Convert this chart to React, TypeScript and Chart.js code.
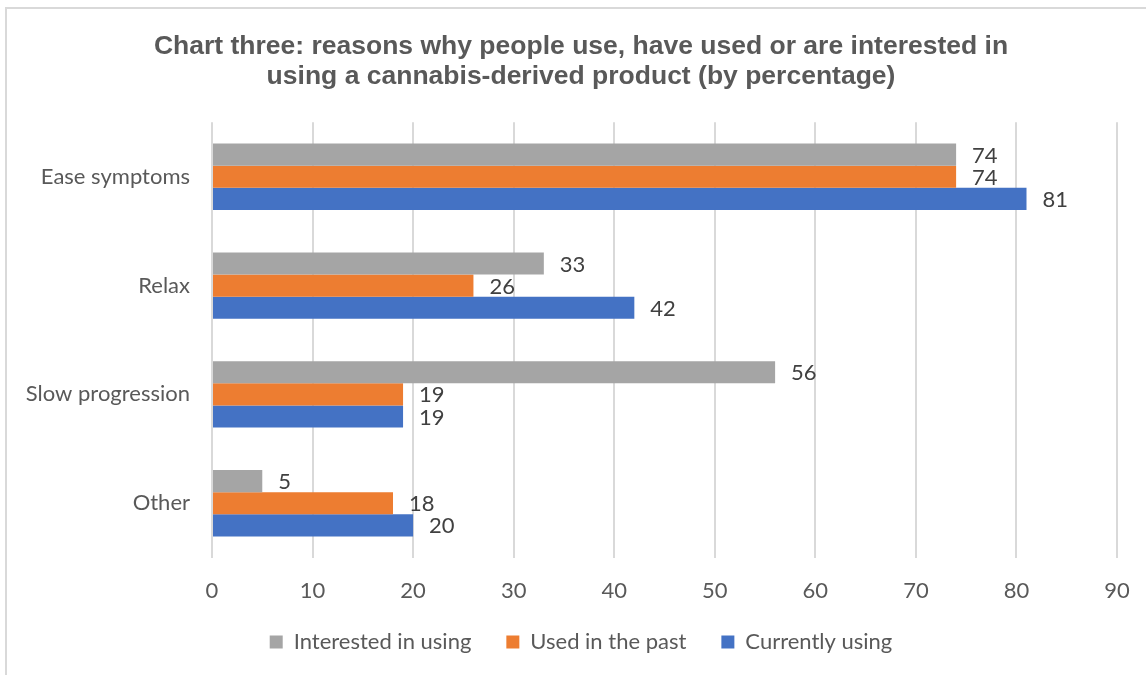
import React, { useEffect, useRef } from "react";
import { Chart, registerables } from "chart.js";

Chart.register(...registerables);

const categories = ["Ease symptoms", "Relax", "Slow progression", "Other"];
const interestedInUsing = [74, 33, 56, 5];
const usedInThePast = [74, 26, 19, 18];
const currentlyUsing = [81, 42, 19, 20];
const seriesNames = ["Interested in using", "Used in the past", "Currently using"];
const titleLines = [
  "Chart three: reasons why people use, have used or are interested in",
  "using a cannabis-derived product (by percentage)",
];

const FONT = "Lato, 'Open Sans', sans-serif";
const FS = 22;
const LEGEND_SHIFT = 28;

const frame = {
  id: "frame",
  beforeDraw(chart: any) {
    const ctx = chart.ctx;
    ctx.save();
    ctx.fillStyle = "#ffffff";
    ctx.fillRect(0, 0, chart.width, chart.height);
    ctx.strokeStyle = "#d9d9d9";
    ctx.lineWidth = 2;
    ctx.beginPath();
    ctx.moveTo(6, chart.height);
    ctx.lineTo(6, 8);
    ctx.lineTo(chart.width, 8);
    ctx.stroke();
    ctx.restore();
  },
};

const legendTighten = {
  id: "legendTighten",
  beforeLayout(chart: any) {
    const lg = chart.legend;
    if (lg && !lg.__patched) {
      const orig = lg.fit.bind(lg);
      lg.fit = function () {
        orig();
        this.height = this.height - LEGEND_SHIFT;
      };
      lg.__patched = true;
    }
  },
  afterLayout(chart: any) {
    const lg = chart.legend;
    if (lg) {
      lg.top -= LEGEND_SHIFT;
      lg.height += LEGEND_SHIFT;
    }
  },
};

const valueLabels = {
  id: "valueLabels",
  afterDatasetsDraw(chart: any) {
    const ctx = chart.ctx;
    ctx.save();
    ctx.font = `${FS}px ${FONT}`;
    ctx.fillStyle = "#404040";
    ctx.textAlign = "left";
    ctx.textBaseline = "middle";
    chart.data.datasets.forEach((ds: any, i: number) => {
      const meta = chart.getDatasetMeta(i);
      meta.data.forEach((bar: any, j: number) => {
        ctx.fillText(String(ds.data[j]), bar.x + 16, bar.y + 1);
      });
    });
    ctx.restore();
  },
};

export default function App() {
  const ref = useRef<HTMLCanvasElement>(null);
  useEffect(() => {
    document.body.style.margin = "0";
    const chart = new Chart(ref.current as HTMLCanvasElement, {
      type: "bar",
      data: {
        labels: categories,
        datasets: [
          { label: seriesNames[0], data: interestedInUsing, backgroundColor: "#a5a5a5" },
          { label: seriesNames[1], data: usedInThePast, backgroundColor: "#ed7d31" },
          { label: seriesNames[2], data: currentlyUsing, backgroundColor: "#4472c4" },
        ],
      },
      options: {
        indexAxis: "y",
        responsive: false,
        animation: false,
        maintainAspectRatio: false,
        layout: { padding: { left: 16, right: 0, top: 8, bottom: 12 } },
        datasets: { bar: { categoryPercentage: 0.61, barPercentage: 1 } },
        scales: {
          x: {
            min: 0,
            max: 90,
            ticks: { stepSize: 10, color: "#595959", font: { size: FS, family: FONT }, padding: 20 },
            grid: { color: "#d9d9d9", lineWidth: 2, drawTicks: false },
            border: { display: false },
            afterFit: (scale: any) => {
              scale.paddingRight = 29;
            },
          },
          y: {
            ticks: { color: "#595959", font: { size: FS, family: FONT }, padding: 22 },
            grid: { display: false, drawTicks: false },
            border: { display: false },
            afterFit: (scale: any) => {
              scale.width = 212 - 16;
            },
          },
        },
        plugins: {
          title: {
            display: true,
            text: titleLines,
            color: "#595959",
            font: { size: 26.5, weight: "bold", family: "'Liberation Sans', Arial, sans-serif", lineHeight: 1.12 },
            padding: { top: 24, bottom: 31 },
          },
          legend: {
            position: "bottom",
            labels: {
              color: "#595959",
              font: { size: FS, family: FONT },
              boxWidth: 13,
              boxHeight: 13,
              padding: 35,
            },
          },
          tooltip: { enabled: false },
        },
      },
      plugins: [frame, legendTighten, valueLabels],
    } as any);
    return () => chart.destroy();
  }, []);
  return (
    <div style={{ position: "absolute", left: 0, top: 0, width: 1146, height: 675 }}>
      <canvas ref={ref} width={1146} height={675} />
    </div>
  );
}
